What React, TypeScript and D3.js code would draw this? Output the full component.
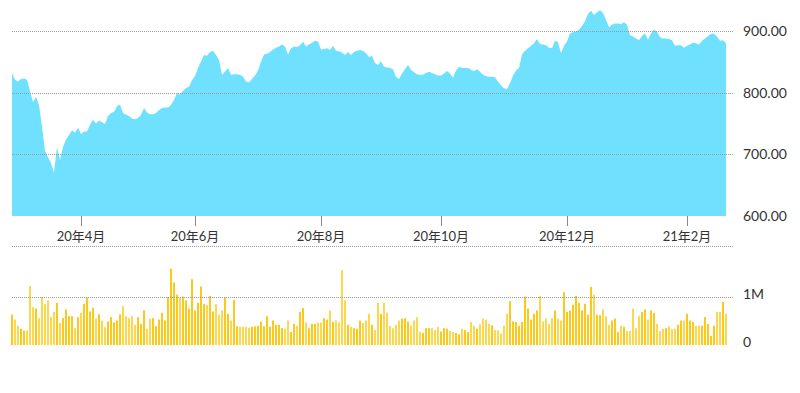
import { useEffect, useRef } from "react";
import * as d3 from "d3";

// daily closes, one per trading day (Mar 2020 - Feb 2021)
const prices = [
  831, 821, 818, 822, 823, 821, 802, 785, 793, 780,
  745, 706, 695, 686, 670, 712, 691, 712, 724, 731,
  739, 735, 743, 733, 737, 737, 748, 756, 750, 755,
  752, 749, 762, 767, 769, 778, 781, 767, 764, 762,
  758, 757, 759, 764, 775, 768, 765, 765, 767, 772,
  775, 776, 776, 780, 788, 799, 797, 803, 807, 810,
  820, 827, 840, 850, 861, 860, 866, 868, 861, 853,
  829, 834, 840, 829, 830, 830, 829, 826, 818, 817,
  822, 828, 836, 850, 862, 863, 866, 870, 873, 875,
  878, 875, 862, 872, 875, 874, 877, 883, 875, 878,
  881, 884, 883, 870, 871, 872, 869, 876, 868, 867,
  865, 861, 866, 861, 866, 868, 869, 868, 864, 858,
  860, 848, 845, 851, 842, 841, 840, 838, 826, 822,
  831, 838, 845, 837, 833, 830, 829, 829, 832, 834,
  832, 830, 828, 828, 831, 835, 831, 824, 836, 842,
  840, 840, 840, 837, 835, 838, 834, 829, 827, 826,
  826, 825, 818, 812, 807, 806, 815, 828, 836, 840,
  862, 868, 872, 876, 880, 887, 879, 878, 877, 873,
  872, 884, 882, 864, 876, 883, 896, 898, 899, 902,
  908, 916, 928, 933, 926, 930, 934, 929, 918, 906,
  910, 912, 912, 911, 914, 910, 893, 891, 888, 885,
  892, 896, 886, 896, 902, 899, 890, 888, 888, 887,
  885, 876, 877, 877, 873, 876, 878, 881, 880, 878,
  884, 888, 892, 895, 896, 891, 884, 885, 880,
];

// daily volume in millions
const volumes = [
  0.63, 0.53, 0.4, 0.34, 0.3, 0.3, 1.23, 0.79, 0.76, 0.56,
  1.0, 0.85, 0.93, 0.58, 0.69, 0.88, 0.46, 0.56, 0.74, 0.6,
  0.6, 0.35, 0.58, 0.67, 0.86, 0.99, 0.7, 0.77, 0.55, 0.64,
  0.51, 0.37, 0.49, 0.58, 0.47, 0.51, 0.64, 0.81, 0.6, 0.56,
  0.6, 0.42, 0.58, 0.44, 0.72, 0.34, 0.55, 0.56, 0.39, 0.53,
  0.67, 0.51, 1.0, 1.59, 1.3, 1.05, 0.98, 1.01, 0.93, 0.76,
  1.37, 0.72, 0.88, 1.22, 0.85, 0.83, 1.02, 0.7, 0.85, 0.63,
  0.72, 0.99, 0.65, 0.51, 0.94, 0.39, 0.38, 0.38, 0.38, 0.36,
  0.38, 0.39, 0.4, 0.49, 0.39, 0.6, 0.38, 0.51, 0.42, 0.42,
  0.35, 0.34, 0.51, 0.27, 0.44, 0.4, 0.69, 0.77, 0.47, 0.35,
  0.44, 0.44, 0.47, 0.47, 0.56, 0.53, 0.72, 0.48, 0.51, 0.47,
  1.56, 0.93, 0.42, 0.38, 0.35, 0.34, 0.51, 0.46, 0.51, 0.65,
  0.42, 0.31, 0.88, 0.65, 0.88, 0.67, 0.4, 0.35, 0.42, 0.51,
  0.55, 0.56, 0.49, 0.4, 0.51, 0.58, 0.28, 0.25, 0.35, 0.35,
  0.35, 0.31, 0.38, 0.28, 0.35, 0.34, 0.29, 0.27, 0.25, 0.22,
  0.34, 0.31, 0.27, 0.48, 0.4, 0.34, 0.43, 0.55, 0.53, 0.44,
  0.41, 0.31, 0.31, 0.24, 0.4, 0.65, 0.91, 0.49, 0.48, 0.4,
  0.48, 1.01, 0.76, 0.53, 0.65, 0.72, 1.02, 0.49, 0.55, 0.44,
  0.56, 0.72, 0.55, 0.51, 1.1, 0.69, 0.72, 0.84, 1.02, 0.88,
  0.72, 0.86, 0.63, 1.21, 1.05, 0.63, 0.62, 0.74, 0.6, 0.42,
  0.51, 0.55, 0.27, 0.4, 0.38, 0.29, 0.29, 0.76, 0.35, 0.6,
  0.69, 0.74, 0.53, 0.72, 0.67, 0.44, 0.29, 0.34, 0.35, 0.39,
  0.33, 0.34, 0.42, 0.51, 0.51, 0.65, 0.51, 0.48, 0.4, 0.4,
  0.4, 0.58, 0.44, 0.19, 0.4, 0.69, 0.69, 0.9, 0.65,
];

// month ticks: trading-day index of the first session of the month
const monthTickIndex = [23, 61, 103, 143, 185, 225];
const monthTickLabels = ["20年4月", "20年6月", "20年8月", "20年10月", "20年12月", "21年2月"];

const priceTicks = [600, 700, 800, 900];
const priceGridTicks = [700, 800, 900];
const volumeTicks = [0, 1];
const volumeTickLabels = ["0", "1M"];

export default function App() {
  const svgRef = useRef<SVGSVGElement>(null);

  useEffect(() => {
    if (!svgRef.current) return;
    const svg = d3.select(svgRef.current);
    svg.selectAll("*").remove();

    const left = 12;
    const right = 726;
    const gridRight = 733;
    const labelX = 743;
    const font = "Lato, 'Noto Sans CJK JP', sans-serif";

    const x = d3.scaleLinear().domain([0, prices.length - 1]).range([left, right]);
    const y = d3.scaleLinear().domain([600, 900]).range([216, 31]);
    const yVol = d3.scaleLinear().domain([0, 1]).range([345, 297]);

    // price area
    const area = d3
      .area<number>()
      .x((_, i) => x(i))
      .y0(y(600))
      .y1((d) => y(d));

    svg
      .append("path")
      .attr("d", area(prices) || "")
      .attr("fill", "#6fe0fe");

    // price grid (on top of the area)
    svg
      .append("g")
      .selectAll("line")
      .data(priceGridTicks)
      .enter()
      .append("line")
      .attr("x1", left)
      .attr("x2", gridRight)
      .attr("y1", (d) => Math.round(y(d)) + 0.5)
      .attr("y2", (d) => Math.round(y(d)) + 0.5)
      .attr("stroke", "#9a9a9a")
      .attr("stroke-width", 1)
      .attr("stroke-dasharray", "1,1");

    svg
      .append("g")
      .selectAll("text")
      .data(priceTicks)
      .enter()
      .append("text")
      .attr("x", labelX)
      .attr("y", (d) => y(d))
      .attr("dy", "0.35em")
      .style("font-family", font)
      .style("font-size", "14px")
      .style("fill", "#333")
      .text((d) => d3.format(".2f")(d));

    // month ticks
    svg
      .append("g")
      .selectAll("line")
      .data(monthTickIndex)
      .enter()
      .append("line")
      .attr("x1", (d) => Math.round(x(d)) + 0.5)
      .attr("x2", (d) => Math.round(x(d)) + 0.5)
      .attr("y1", 216)
      .attr("y2", 226)
      .attr("stroke", "#888")
      .attr("stroke-width", 1);

    svg
      .append("g")
      .selectAll("text")
      .data(monthTickIndex)
      .enter()
      .append("text")
      .attr("x", (d) => x(d))
      .attr("y", 241)
      .attr("text-anchor", "middle")
      .style("font-family", font)
      .style("font-size", "13px")
      .style("fill", "#333")
      .text((_, i) => monthTickLabels[i]);

    // separator between panels
    svg
      .append("line")
      .attr("x1", left)
      .attr("x2", gridRight)
      .attr("y1", 246.5)
      .attr("y2", 246.5)
      .attr("stroke", "#9a9a9a")
      .attr("stroke-dasharray", "1,1");

    // volume bars
    svg
      .append("g")
      .selectAll("rect")
      .data(volumes)
      .enter()
      .append("rect")
      .attr("x", (_, i) => x(i) - 1)
      .attr("width", 2)
      .attr("y", (d) => yVol(d))
      .attr("height", (d) => yVol(0) - yVol(d))
      .attr("fill", (_, i) => (i > 0 && prices[i] < prices[i - 1] ? "#fdd84e" : "#fcc81a"));

    // 1M grid line
    svg
      .append("line")
      .attr("x1", left)
      .attr("x2", gridRight)
      .attr("y1", Math.round(yVol(1)) + 0.5)
      .attr("y2", Math.round(yVol(1)) + 0.5)
      .attr("stroke", "#9a9a9a")
      .attr("stroke-dasharray", "1,1");

    svg
      .append("g")
      .selectAll("text")
      .data(volumeTicks)
      .enter()
      .append("text")
      .attr("x", labelX)
      .attr("y", (d) => yVol(d) - 3)
      .attr("dy", "0.35em")
      .style("font-family", font)
      .style("font-size", "14px")
      .style("fill", "#333")
      .text((_, i) => volumeTickLabels[i]);
  }, []);

  return (
    <svg
      ref={svgRef}
      width={800}
      height={393}
      style={{ position: "absolute", left: 0, top: 0, background: "#fff" }}
    />
  );
}
